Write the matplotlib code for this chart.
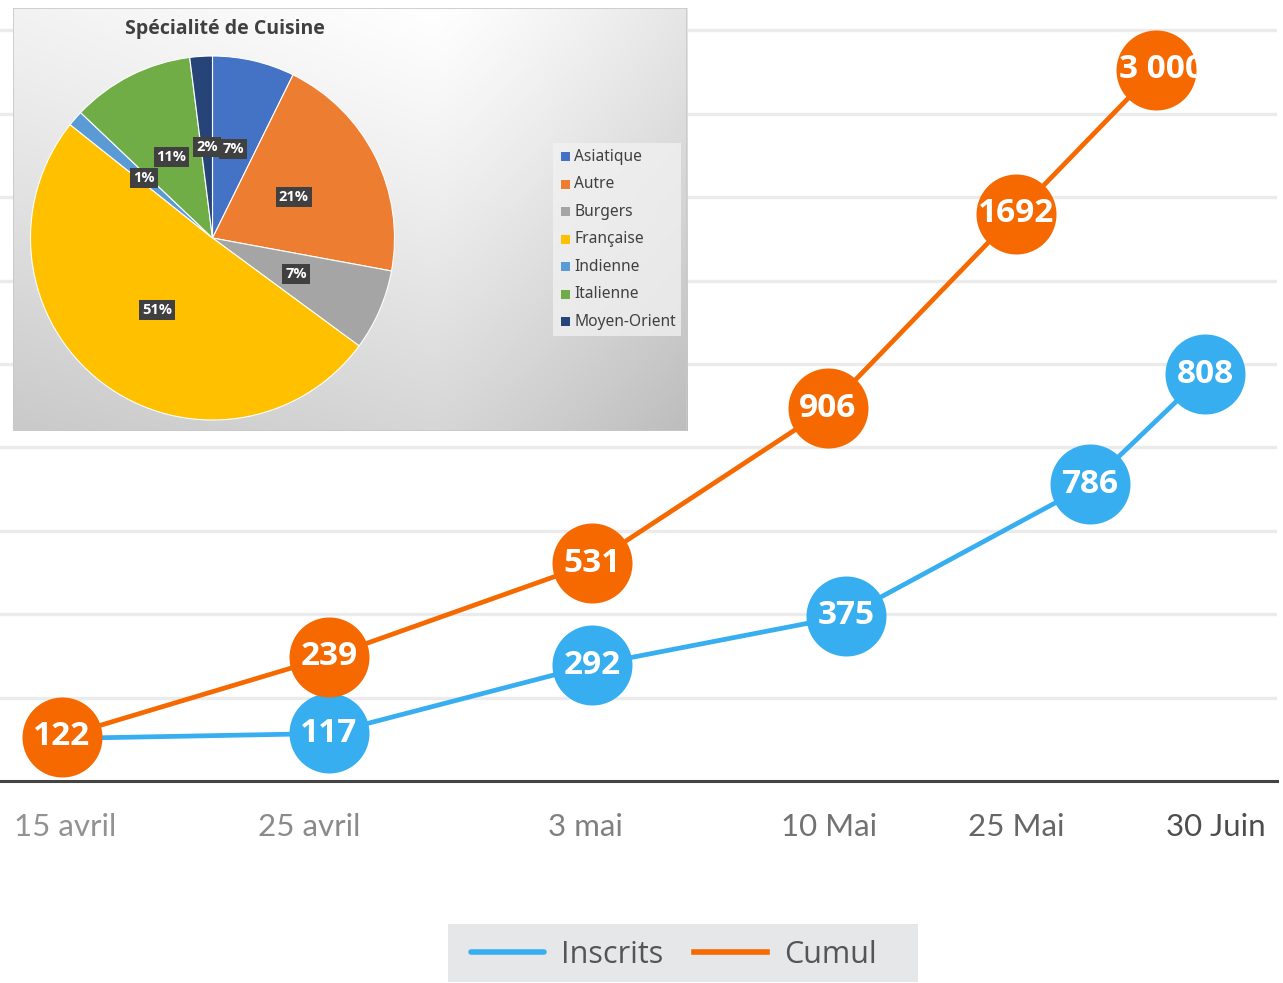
import numpy as np
import matplotlib
matplotlib.use("Agg")
import matplotlib.pyplot as plt
from matplotlib.lines import Line2D
from matplotlib.patches import Rectangle
from matplotlib.transforms import ScaledTranslation, Bbox, TransformedBbox

# --- données : courbe des inscriptions ---
dates = ["15 avril", "25 avril", "3 mai", "10 Mai", "25 Mai", "30 Juin"]
date_pos = [0.65, 3.09, 5.85, 8.29, 10.16, 12.16]

inscrits = [122, 117, 292, 375, 786, 808]
inscrits_x = [0.62, 3.29, 5.92, 8.46, 10.90, 12.05]
inscrits_niveau = [0.51, 0.57, 1.39, 1.98, 3.56, 4.88]
inscrits_txt = ["", "117", "292", "375", "786", "808"]

cumul = [122, 239, 531, 906, 1692, 3000]
cumul_x = [0.62, 3.29, 5.92, 8.28, 10.16, 11.56]
cumul_niveau = [0.53, 1.49, 2.61, 4.47, 6.80, 8.53]
cumul_txt = ["122", "239", "531", "906", "1692", "3 000"]

# --- données : camembert ---
cuisines = ["Asiatique", "Autre", "Burgers", "Française", "Indienne", "Italienne", "Moyen-Orient"]
parts = [7.3, 20.6, 7.2, 50.6, 1.4, 10.9, 2.0]
couleurs_pie = ["#4472c4", "#ed7d31", "#a5a5a5", "#ffc000", "#5b9bd5", "#70ad47", "#264478"]

BLEU = "#37aef0"
ORANGE = "#f56900"

W, H = 1283, 983
fig = plt.figure(figsize=(W / 100, H / 100), dpi=100)
fig.patch.set_facecolor("white")

# axe principal
ax = fig.add_axes([0, 1 - 781 / H, 1277 / W, 781 / H])
ax.set_xlim(0, 12.77)
ax.set_ylim(0, 781 / 83.4)
ax.set_facecolor("white")
for s in ["top", "right", "left"]:
    ax.spines[s].set_visible(False)
ax.spines["bottom"].set_color("#444444")
ax.spines["bottom"].set_linewidth(2.2)
ax.set_yticks(range(1, 10))
ax.tick_params(axis="y", left=False, labelleft=False)
ax.grid(axis="y", color="#ebebeb", linewidth=2.4)
ax.set_axisbelow(True)
ax.set_xticks(date_pos)
ax.set_xticklabels(dates, fontsize=22.5, family="Lato")
ax.tick_params(axis="x", length=0, pad=23)
gris = ["#929292", "#8a8a8a", "#808080", "#727272", "#666666", "#4d4d4d"]
for lab, c in zip(ax.get_xticklabels(), gris):
    lab.set_color(c)

rayon_pt = 57.6
ax.plot(inscrits_x, inscrits_niveau, color=BLEU, lw=3.4, zorder=3, clip_on=False)
ax.plot(inscrits_x[1:], inscrits_niveau[1:], "o", color=BLEU, ms=rayon_pt, mec="none", zorder=4, clip_on=False)
ax.plot(cumul_x, cumul_niveau, color=ORANGE, lw=3.4, zorder=5, clip_on=False)
ax.plot(cumul_x, cumul_niveau, "o", color=ORANGE, ms=rayon_pt, mec="none", zorder=6, clip_on=False)


def etiquette(x, y, txt, z):
    if not txt:
        return
    if len(txt) > 4:
        # texte trop long : calé à gauche et coupé par le bord du rond
        t = ax.annotate(txt, (x, y), xytext=(-rayon_pt / 2 + 2, 0), textcoords="offset points",
                        ha="left", va="center", color="white", fontsize=24, fontweight="bold",
                        family="Open Sans", zorder=z, annotation_clip=False)
    else:
        t = ax.text(x, y, txt, ha="center", va="center", color="white", fontsize=24,
                    fontweight="bold", family="Open Sans", zorder=z)
    t.set_clip_on(True)
    r = rayon_pt / 2 / 72
    tr = fig.dpi_scale_trans + ScaledTranslation(x, y, ax.transData)
    t.set_clip_box(TransformedBbox(Bbox([[-r, -r], [r, r]]), tr))


for x, y, t in zip(inscrits_x, inscrits_niveau, inscrits_txt):
    etiquette(x, y, t, 4.5)
for x, y, t in zip(cumul_x, cumul_niveau, cumul_txt):
    etiquette(x, y, t, 6.5)

# légende du bas
fig.patches.append(Rectangle((448 / W, 1 - 982 / H), 470 / W, 58 / H, transform=fig.transFigure,
                             fc="#e6e7e8", ec="none", zorder=0))
poignees = [Line2D([], [], color=BLEU, lw=4, solid_capstyle="round"),
            Line2D([], [], color=ORANGE, lw=4)]
leg = fig.legend(poignees, ["Inscrits", "Cumul"], loc="center", bbox_to_anchor=(674 / W, 1 - 955 / H),
                 ncol=2, handlelength=2.4, handletextpad=0.55, columnspacing=1.0,
                 frameon=False, prop={"family": "Open Sans", "size": 22})
for t in leg.get_texts():
    t.set_color("#555555")

# encart camembert : fond dégradé
x0, y0, x1, y1 = 13, 8, 687, 431
fond = fig.add_axes([x0 / W, 1 - y1 / H, (x1 - x0) / W, (y1 - y0) / H])
gx, gy = np.meshgrid(np.linspace(0, x1 - x0, 300), np.linspace(0, y1 - y0, 200))
sombre = (0.16 * (gy / (y1 - y0)) ** 1.1
          + 0.10 * np.clip((gx - 420) / 254, 0, 1) ** 1.2
          + 0.05 * np.clip((420 - gx) / 420, 0, 1))
val = np.clip(1.0 - sombre, 0, 1)
fond.imshow(np.dstack([val, val, val]), extent=(0, 1, 0, 1), origin="upper", aspect="auto")
fond.set_xlim(0, 1)
fond.set_ylim(0, 1)
fond.axis("off")
fond.add_patch(Rectangle((0, 0), 1, 1, fill=False, ec="#c8c8c8", lw=1.2, transform=fond.transAxes))

fond.text((225 - x0) / (x1 - x0), 1 - (29 - y0) / (y1 - y0), "Spécialité de Cuisine",
          ha="center", va="center", fontsize=14, fontweight="bold", color="#404040", family="Open Sans")

cx, cy, r = 212.5, 238, 182
pie_ax = fig.add_axes([(cx - r) / W, 1 - (cy + r) / H, 2 * r / W, 2 * r / H])
wedges, _, autotexts = pie_ax.pie(parts, colors=couleurs_pie, startangle=90, counterclock=False,
                                   autopct="%.0f%%", pctdistance=0.5,
                                   wedgeprops={"linewidth": 0.8, "edgecolor": "white"})
for t in autotexts:
    t.set_color("white")
    t.set_fontsize(10.5)
    t.set_fontweight("bold")
    t.set_family("Open Sans")
    t.set_bbox(dict(boxstyle="square,pad=0.2", fc="#404040", ec="none"))
pie_ax.set_xlim(-1, 1)
pie_ax.set_ylim(-1, 1)
pie_ax.set_aspect("equal")
pie_ax.axis("off")

# légende du camembert
leg_ax = fig.add_axes([553 / W, 1 - 336 / H, 128 / W, 193 / H])
leg_ax.set_xlim(0, 1)
leg_ax.set_ylim(0, 1)
leg_ax.add_patch(Rectangle((0, 0), 1, 1, fc="#f2f2f2", ec="none", alpha=0.75))
leg_ax.axis("off")
for i, (nom, c) in enumerate(zip(cuisines, couleurs_pie)):
    yy = 1 - (14 + i * 27.5) / 193
    leg_ax.add_patch(Rectangle((8 / 128, yy - 4.5 / 193), 9 / 128, 9 / 193, fc=c, ec="none"))
    leg_ax.text(21 / 128, yy, nom, va="center", ha="left", fontsize=11.2, color="#404040", family="Noto Sans")

fig.savefig("out.png", dpi=100)
